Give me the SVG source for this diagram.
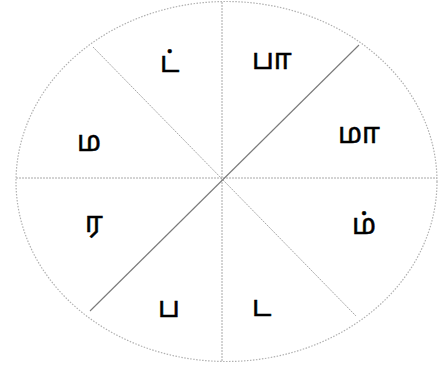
<svg xmlns="http://www.w3.org/2000/svg" width="438" height="368" viewBox="0 0 438 368">
<style>
.rim{fill:none;stroke:#b0b0b0;stroke-width:1.2;stroke-dasharray:1.5 1.5}
.ln{stroke:#a8a8a8;stroke-width:1;stroke-dasharray:2 1}
.dk{stroke:#7a7a7a;stroke-width:1.1}
.t{font-family:"Noto Sans Tamil","Noto Sans","Latha",sans-serif;font-size:28px;fill:#000;stroke:#000;stroke-width:0.5}
</style>
<rect width="438" height="368" fill="#fff"/>
<g id="connectors">
<ellipse class="rim" cx="226.5" cy="181.5" rx="210.5" ry="180"/>
<line class="ln" x1="16" y1="178" x2="437" y2="178"/>
<line class="ln" x1="222" y1="2" x2="222" y2="361"/>
<line class="dk" x1="90" y1="311" x2="359" y2="45"/>
<line class="ln" x1="93" y1="47" x2="356" y2="316"/>
</g>
<g id="n1"><text class="t" x="160" y="72">ட்</text></g>
<g id="n2"><text class="t" x="252" y="69">பா</text></g>
<g id="n3"><text class="t" x="77" y="151">ம</text></g>
<g id="n4"><text class="t" x="338" y="143">மா</text></g>
<g id="n5"><text class="t" x="85" y="232">ர</text></g>
<g id="n6"><text class="t" x="352" y="234">ம்</text></g>
<g id="n7"><text class="t" x="158" y="317">ப</text></g>
<g id="n8"><text class="t" x="252" y="316">ட</text></g>
</svg>
